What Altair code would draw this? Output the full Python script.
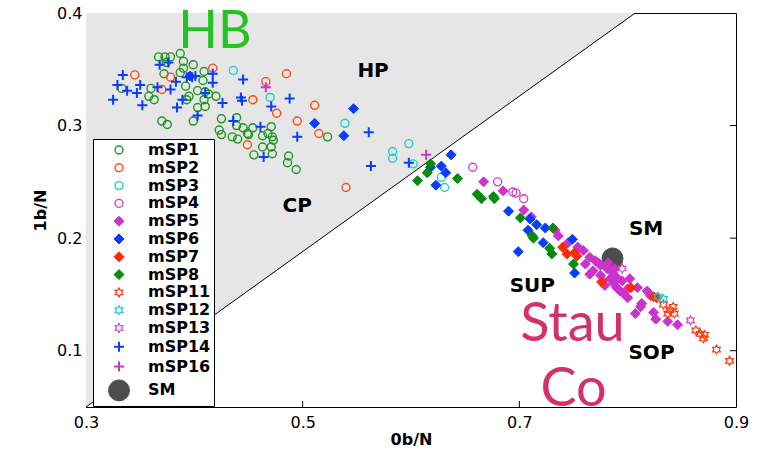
import altair as alt
import pandas as pd

# ---- measured points (0b/N, 1b/N) per model set ----
msp1_x = [0.367, 0.378, 0.373, 0.387, 0.390, 0.374, 0.399, 0.390, 0.387, 0.409,
          0.372, 0.408, 0.392, 0.360, 0.333, 0.403, 0.413, 0.420, 0.395, 0.393,
          0.409, 0.358, 0.363, 0.403, 0.410, 0.370, 0.375, 0.399, 0.425, 0.439,
          0.439, 0.445, 0.423, 0.425, 0.454, 0.471, 0.449, 0.463, 0.472, 0.473,
          0.435, 0.440, 0.523, 0.463, 0.471, 0.455, 0.472, 0.487, 0.486, 0.494,
          0.410, 0.450, 0.468]
msp1_y = [0.361, 0.361, 0.361, 0.364, 0.357, 0.356, 0.354, 0.351, 0.347, 0.348,
          0.346, 0.340, 0.335, 0.333, 0.333, 0.331, 0.328, 0.326, 0.326, 0.323,
          0.323, 0.326, 0.323, 0.316, 0.317, 0.304, 0.301, 0.304, 0.306, 0.307,
          0.300, 0.298, 0.296, 0.292, 0.298, 0.299, 0.293, 0.291, 0.290, 0.287,
          0.290, 0.288, 0.290, 0.281, 0.281, 0.274, 0.275, 0.273, 0.267, 0.261,
          0.330, 0.292, 0.293]

msp2_x = [0.345, 0.370, 0.378, 0.417, 0.485, 0.466, 0.454, 0.476, 0.495, 0.511,
          0.515, 0.449, 0.540]
msp2_y = [0.345, 0.332, 0.343, 0.351, 0.346, 0.339, 0.323, 0.311, 0.304, 0.318,
          0.293, 0.283, 0.245]

msp3_x = [0.436, 0.470, 0.539, 0.583, 0.583, 0.598, 0.602, 0.628, 0.631]
msp3_y = [0.349, 0.325, 0.302, 0.277, 0.271, 0.284, 0.266, 0.254, 0.245]

msp4_x = [0.657, 0.680, 0.694, 0.697, 0.704]
msp4_y = [0.263, 0.250, 0.241, 0.240, 0.235]

msp5_x = [0.667, 0.685, 0.704, 0.711, 0.733, 0.736, 0.745, 0.754, 0.759, 0.765,
          0.770, 0.775, 0.781, 0.786, 0.790, 0.768, 0.777, 0.787, 0.793, 0.800,
          0.802, 0.809, 0.818, 0.821, 0.813, 0.807, 0.824, 0.826, 0.837, 0.846,
          0.812, 0.765, 0.796, 0.790, 0.779, 0.775, 0.761, 0.773, 0.782, 0.788,
          0.795, 0.784, 0.800]
msp5_y = [0.250, 0.242, 0.225, 0.219, 0.207, 0.202, 0.196, 0.192, 0.189, 0.183,
          0.180, 0.176, 0.173, 0.169, 0.165, 0.171, 0.162, 0.160, 0.153, 0.147,
          0.164, 0.156, 0.153, 0.149, 0.142, 0.133, 0.134, 0.128, 0.126, 0.123,
          0.139, 0.168, 0.151, 0.156, 0.158, 0.167, 0.177, 0.178, 0.178, 0.173,
          0.162, 0.164, 0.155]

msp6_x = [0.511, 0.547, 0.538, 0.637, 0.628, 0.618, 0.632, 0.623, 0.690, 0.710,
          0.716, 0.724, 0.708, 0.722, 0.699, 0.749, 0.751, 0.396]
msp6_y = [0.302, 0.315, 0.291, 0.274, 0.264, 0.263, 0.258, 0.247, 0.224, 0.217,
          0.212, 0.209, 0.207, 0.196, 0.188, 0.199, 0.169, 0.344]

msp7_x = [0.740, 0.744, 0.751, 0.753, 0.776, 0.803, 0.824, 0.827]
msp7_y = [0.192, 0.186, 0.187, 0.184, 0.161, 0.156, 0.148, 0.147]

msp8_x = [0.618, 0.615, 0.606, 0.643, 0.661, 0.665, 0.676, 0.677, 0.701, 0.712,
          0.713, 0.728, 0.730, 0.750, 0.731]
msp8_y = [0.266, 0.258, 0.251, 0.253, 0.239, 0.235, 0.237, 0.235, 0.218, 0.202,
          0.200, 0.191, 0.186, 0.177, 0.209]

msp11_x = [0.833, 0.842, 0.839, 0.837, 0.843, 0.863, 0.867, 0.871, 0.870, 0.882, 0.894]
msp11_y = [0.141, 0.139, 0.136, 0.133, 0.133, 0.118, 0.115, 0.114, 0.111, 0.101, 0.091]

msp12_x = [0.828, 0.833]
msp12_y = [0.148, 0.146]

msp13_x = [0.795, 0.858]
msp13_y = [0.173, 0.127]

msp14_x = [0.368, 0.376, 0.334, 0.329, 0.338, 0.350, 0.347, 0.352, 0.325, 0.366,
           0.378, 0.383, 0.393, 0.398, 0.401, 0.417, 0.417, 0.410, 0.389, 0.384,
           0.403, 0.426, 0.443, 0.444, 0.445, 0.471, 0.488, 0.436, 0.461, 0.495,
           0.464, 0.561, 0.563, 0.598]
msp14_y = [0.354, 0.356, 0.345, 0.336, 0.331, 0.336, 0.329, 0.318, 0.323, 0.334,
           0.332, 0.339, 0.343, 0.343, 0.344, 0.338, 0.346, 0.329, 0.323, 0.316,
           0.309, 0.320, 0.325, 0.322, 0.341, 0.317, 0.324, 0.304, 0.299, 0.290,
           0.272, 0.294, 0.264, 0.267]

msp16_x = [0.466, 0.614]
msp16_y = [0.334, 0.274]

sm_x = [0.786]
sm_y = [0.182]

# boundary separating the shaded (HB) region
boundary_x = [0.3, 0.807]
boundary_y = [0.05, 0.4]

# region annotations
phase_text = ["HP", "CP", "SM", "SUP", "SOP"]
phase_x = [0.565, 0.495, 0.817, 0.712, 0.822]
phase_y = [0.343, 0.223, 0.2024, 0.1526, 0.093]

hb_text = ["HB"]
hb_x = [0.419]
hb_y = [0.369]

stau_text = ["Stau", "Co"]
stau_x = [0.749, 0.750]
stau_y = [0.109, 0.051]

x_ticks = [0.3, 0.5, 0.7, 0.9]
y_ticks = [0.1, 0.2, 0.3, 0.4]

# ---- series styling ----
SERIES = ["mSP1", "mSP2", "mSP3", "mSP4", "mSP5", "mSP6", "mSP7", "mSP8",
          "mSP11", "mSP12", "mSP13", "mSP14", "mSP16", "SM"]
HEX = ("M0,-1L0.289,-0.5L0.866,-0.5L0.577,0L0.866,0.5L0.289,0.5L0,1"
       "L-0.289,0.5L-0.866,0.5L-0.577,0L-0.866,-0.5L-0.289,-0.5Z")
PLUS = "M-1,0L1,0M0,-1L0,1"
SHAPES = ["circle"] * 4 + ["diamond"] * 4 + [HEX] * 3 + [PLUS] * 2 + ["circle"]
COLORS = ["#1e951e", "#ff4a14", "#1fcdd0", "#cc44cc",
          "#cc33cc", "#0a3cff", "#ff2a00", "#0a8a0a",
          "#ff3a10", "#1fcdd0", "#cc44cc",
          "#0a3cff", "#cc33cc", "#4d4d4d"]
FILLS = ["transparent"] * 4 + COLORS[4:8] + ["transparent"] * 5 + ["#4d4d4d"]
SIZES = [64] * 4 + [100] * 4 + [80] * 3 + [100] * 2 + [440]
WIDTHS = [1.4] * 4 + [1] * 4 + [1.2] * 3 + [2] * 2 + [1]

series_data = [
    ("SM", sm_x, sm_y),
    ("mSP1", msp1_x, msp1_y), ("mSP2", msp2_x, msp2_y), ("mSP3", msp3_x, msp3_y),
    ("mSP4", msp4_x, msp4_y), ("mSP5", msp5_x, msp5_y), ("mSP6", msp6_x, msp6_y),
    ("mSP7", msp7_x, msp7_y), ("mSP8", msp8_x, msp8_y), ("mSP11", msp11_x, msp11_y),
    ("mSP12", msp12_x, msp12_y), ("mSP13", msp13_x, msp13_y),
    ("mSP14", msp14_x, msp14_y), ("mSP16", msp16_x, msp16_y),
]
rows = []
for name, xs_, ys_ in series_data:
    for a, b in zip(xs_, ys_):
        rows.append({"x": a, "y": b, "series": name})
pts_df = pd.DataFrame(rows)

PLOT_W, PLOT_H = 650, 394
xs = alt.Scale(domain=[0.3, 0.9], nice=False, zero=False)
ys = alt.Scale(domain=[0.05, 0.4], nice=False, zero=False)
x_axis = alt.Axis(values=x_ticks, format=".1f", title="0b/N", labelFlush=False,
                  labelPadding=7, titlePadding=1)
y_axis = alt.Axis(values=y_ticks, format=".1f", title="1b/N",
                  labelPadding=4, titlePadding=8)


def X(field="x"):
    return alt.X(f"{field}:Q", scale=xs, axis=x_axis)


def Y(field="y"):
    return alt.Y(f"{field}:Q", scale=ys, axis=y_axis)


region_df = pd.DataFrame({"x": boundary_x, "y": boundary_y,
                          "y2": [boundary_y[1]] * len(boundary_x)})
region = alt.Chart(region_df).mark_area(color="#e6e6e6", opacity=1).encode(
    x=X(), y=Y(), y2="y2:Q",
)
boundary = alt.Chart(region_df).mark_line(color="black", strokeWidth=1).encode(
    x=X(), y=Y(),
)


def sc(rng, kind=None):
    if kind:
        return alt.Scale(type=kind, domain=SERIES, range=rng)
    return alt.Scale(domain=SERIES, range=rng)


points = alt.Chart(pts_df).mark_point(opacity=1, filled=False).encode(
    x=X(), y=Y(),
    shape=alt.Shape("series:O", scale=sc(SHAPES), title=None),
    stroke=alt.Stroke("series:O", scale=sc(COLORS), title=None),
    fill=alt.Fill("series:O", scale=sc(FILLS), title=None),
    size=alt.Size("series:O", scale=sc(SIZES, "ordinal"), title=None),
    strokeWidth=alt.StrokeWidth("series:O", scale=sc(WIDTHS, "ordinal"), title=None),
)

phase = alt.Chart(pd.DataFrame({"t": phase_text, "x": phase_x, "y": phase_y})).mark_text(
    font="DejaVu Sans", fontWeight="bold", fontSize=20, color="black",
    align="center", baseline="alphabetic"
).encode(x=X(), y=Y(), text="t:N")

hb = alt.Chart(pd.DataFrame({"t": hb_text, "x": hb_x, "y": hb_y})).mark_text(
    font="Lato", fontSize=52, color="#21c421", align="center", baseline="alphabetic"
).encode(x=X(), y=Y(), text="t:N")

stau = alt.Chart(pd.DataFrame({"t": stau_text, "x": stau_x, "y": stau_y})).mark_text(
    font="Lato", fontSize=54, color="#d23267", align="center", baseline="alphabetic"
).encode(x=X(), y=Y(), text="t:N")

# inward tick marks on the bottom and right edges of the box
bottom_ticks = alt.Chart(pd.DataFrame({"x": x_ticks[1:-1]})).mark_rule(
    color="black", strokeWidth=1
).encode(x=X(), y=alt.value(PLOT_H - 6), y2=alt.value(PLOT_H))
right_ticks = alt.Chart(pd.DataFrame({"y": y_ticks[:-1]})).mark_rule(
    color="black", strokeWidth=1
).encode(y=Y(), x=alt.value(PLOT_W - 6), x2=alt.value(PLOT_W))

chart = alt.layer(
    region, boundary, bottom_ticks, right_ticks, points, phase, hb, stau
).properties(
    width=PLOT_W, height=PLOT_H,
    autosize=alt.AutoSizeParams(type="none"),
    padding={"left": 86, "top": 13, "right": 768 - 86 - PLOT_W, "bottom": 453 - 13 - PLOT_H},
).configure_view(
    stroke="black", strokeWidth=1
).configure_axis(
    labelFont="DejaVu Sans", labelFontSize=16, labelColor="black",
    titleFont="DejaVu Sans", titleFontSize=16, titleFontWeight="bold", titleColor="black",
    ticks=False, domain=False, grid=False,
).configure_legend(
    orient="none", legendX=7, legendY=126,
    fillColor="white", strokeColor="black", padding=3, rowPadding=1.8,
    labelFont="DejaVu Sans", labelFontWeight="bold", labelFontSize=16, labelColor="black",
    symbolOffset=12, labelOffset=18, cornerRadius=0,
)

chart.save("out.html", embed_options={"renderer": "svg", "actions": False})
